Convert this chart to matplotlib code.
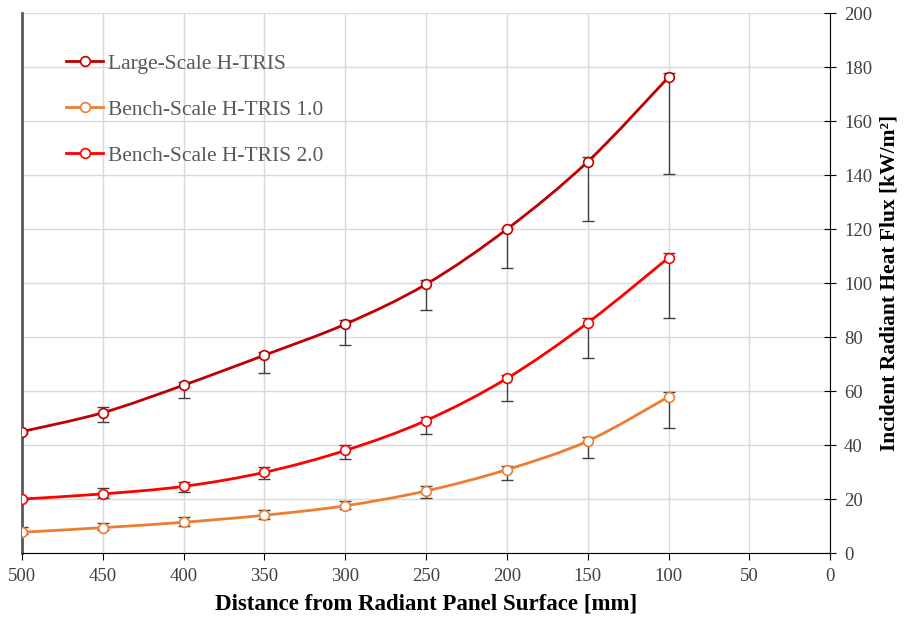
import matplotlib.pyplot as plt
from matplotlib.path import Path
from matplotlib.patches import PathPatch
import numpy as np

# distance from panel [mm]
distance = [500, 450, 400, 350, 300, 250, 200, 150, 100]

# incident heat flux [kW/m2] and error bar ends
large = [45.0, 52.0, 62.2, 73.3, 84.8, 99.6, 120.0, 145.0, 176.3]
large_hi = [45.5, 54.0, 63.4, 74.4, 86.3, 101.0, 120.6, 146.8, 177.7]
large_lo = [44.5, 48.6, 57.4, 66.8, 77.0, 90.0, 105.6, 123.0, 140.6]

bench1 = [7.7, 9.4, 11.4, 14.0, 17.5, 23.0, 30.9, 41.5, 57.9]
bench1_hi = [9.6, 11.0, 13.3, 15.9, 19.4, 24.8, 32.3, 43.1, 59.6]
bench1_lo = [7.0, 8.5, 10.0, 12.6, 16.2, 20.5, 27.0, 35.1, 46.3]

bench2 = [20.0, 21.9, 24.7, 29.9, 38.0, 49.1, 64.7, 85.3, 109.4]
bench2_hi = [20.5, 24.0, 26.2, 32.0, 39.9, 50.5, 66.0, 87.2, 111.2]
bench2_lo = [19.5, 20.4, 22.7, 27.5, 34.7, 44.0, 56.4, 72.1, 87.2]

series = [
    ("Large-Scale H-TRIS", large, large_lo, large_hi, "#C00000"),
    ("Bench-Scale H-TRIS 1.0", bench1, bench1_lo, bench1_hi, "#ED7D31"),
    ("Bench-Scale H-TRIS 2.0", bench2, bench2_lo, bench2_hi, "#FF0000"),
]


def smooth_path(x, y, t=1 / 6):
    # Excel-like smoothed line: cubic Bezier through every point
    x = np.asarray(x, float)
    y = np.asarray(y, float)
    verts = [(x[0], y[0])]
    codes = [Path.MOVETO]
    n = len(x)
    for i in range(n - 1):
        x0, y0 = (x[i - 1], y[i - 1]) if i > 0 else (x[i], y[i])
        x3, y3 = (x[i + 2], y[i + 2]) if i + 2 < n else (x[i + 1], y[i + 1])
        c1 = (x[i] + (x[i + 1] - x0) * t, y[i] + (y[i + 1] - y0) * t)
        c2 = (x[i + 1] - (x3 - x[i]) * t, y[i + 1] - (y3 - y[i]) * t)
        verts += [c1, c2, (x[i + 1], y[i + 1])]
        codes += [Path.CURVE4] * 3
    return Path(verts, codes)


plt.rcParams['font.family'] = ['Liberation Serif', 'DejaVu Serif']

fig = plt.figure(figsize=(9.06, 6.19), dpi=100)
ax = fig.add_axes([0.0243, 0.1066, 0.892, 0.872])

for name, vals, lo, hi, color in series:
    vals_a = np.array(vals)
    err = [vals_a - np.array(lo), np.array(hi) - vals_a]
    ax.errorbar(distance, vals, yerr=err, fmt='none', ecolor='#404040',
                elinewidth=1, capsize=4, capthick=1, zorder=3)
    ax.add_patch(PathPatch(smooth_path(distance, vals), facecolor='none',
                           edgecolor=color, lw=2, zorder=4))
    ax.plot(distance, vals, linestyle='none', marker='o', markersize=7,
            markerfacecolor='white', markeredgecolor=color,
            markeredgewidth=1.2, zorder=5)
    # legend handle
    ax.plot([], [], color=color, lw=2, marker='o', markersize=7,
            markerfacecolor='white', markeredgecolor=color,
            markeredgewidth=1.2, label=name)

ax.set_xlim(500, 0)
ax.set_ylim(0, 200)
ax.set_xticks(range(500, -1, -50))
ax.set_yticks(range(0, 201, 20))

ax.yaxis.tick_right()
ax.yaxis.set_label_position('right')
ax.grid(True, color='#d9d9d9', lw=1)
ax.set_axisbelow(True)

ax.spines['top'].set_visible(False)
ax.spines['left'].set_color('#595959')
ax.spines['left'].set_linewidth(2)
ax.spines['right'].set_color('black')
ax.spines['bottom'].set_color('black')

ax.tick_params(axis='x', direction='out', length=5, colors='black',
               labelcolor='#404040', labelsize=13.5, pad=6)
ax.tick_params(axis='y', direction='inout', length=8, colors='black',
               labelcolor='#404040', labelsize=13.5, pad=6)

ax.set_xlabel('Distance from Radiant Panel Surface [mm]', fontsize=16.5,
              fontweight='bold', labelpad=6)
ax.set_ylabel('Incident Radiant Heat Flux [kW/m²]', fontsize=15.5,
              fontweight='bold', labelpad=5, rotation=90)

leg = ax.legend(loc='upper left', bbox_to_anchor=(0.055, 0.925),
                frameon=False, fontsize=15.5, labelspacing=1.2,
                handlelength=1.7, handletextpad=0.25, borderpad=0,
                borderaxespad=0, labelcolor='#595959')

fig.savefig('out.png', dpi=100)
